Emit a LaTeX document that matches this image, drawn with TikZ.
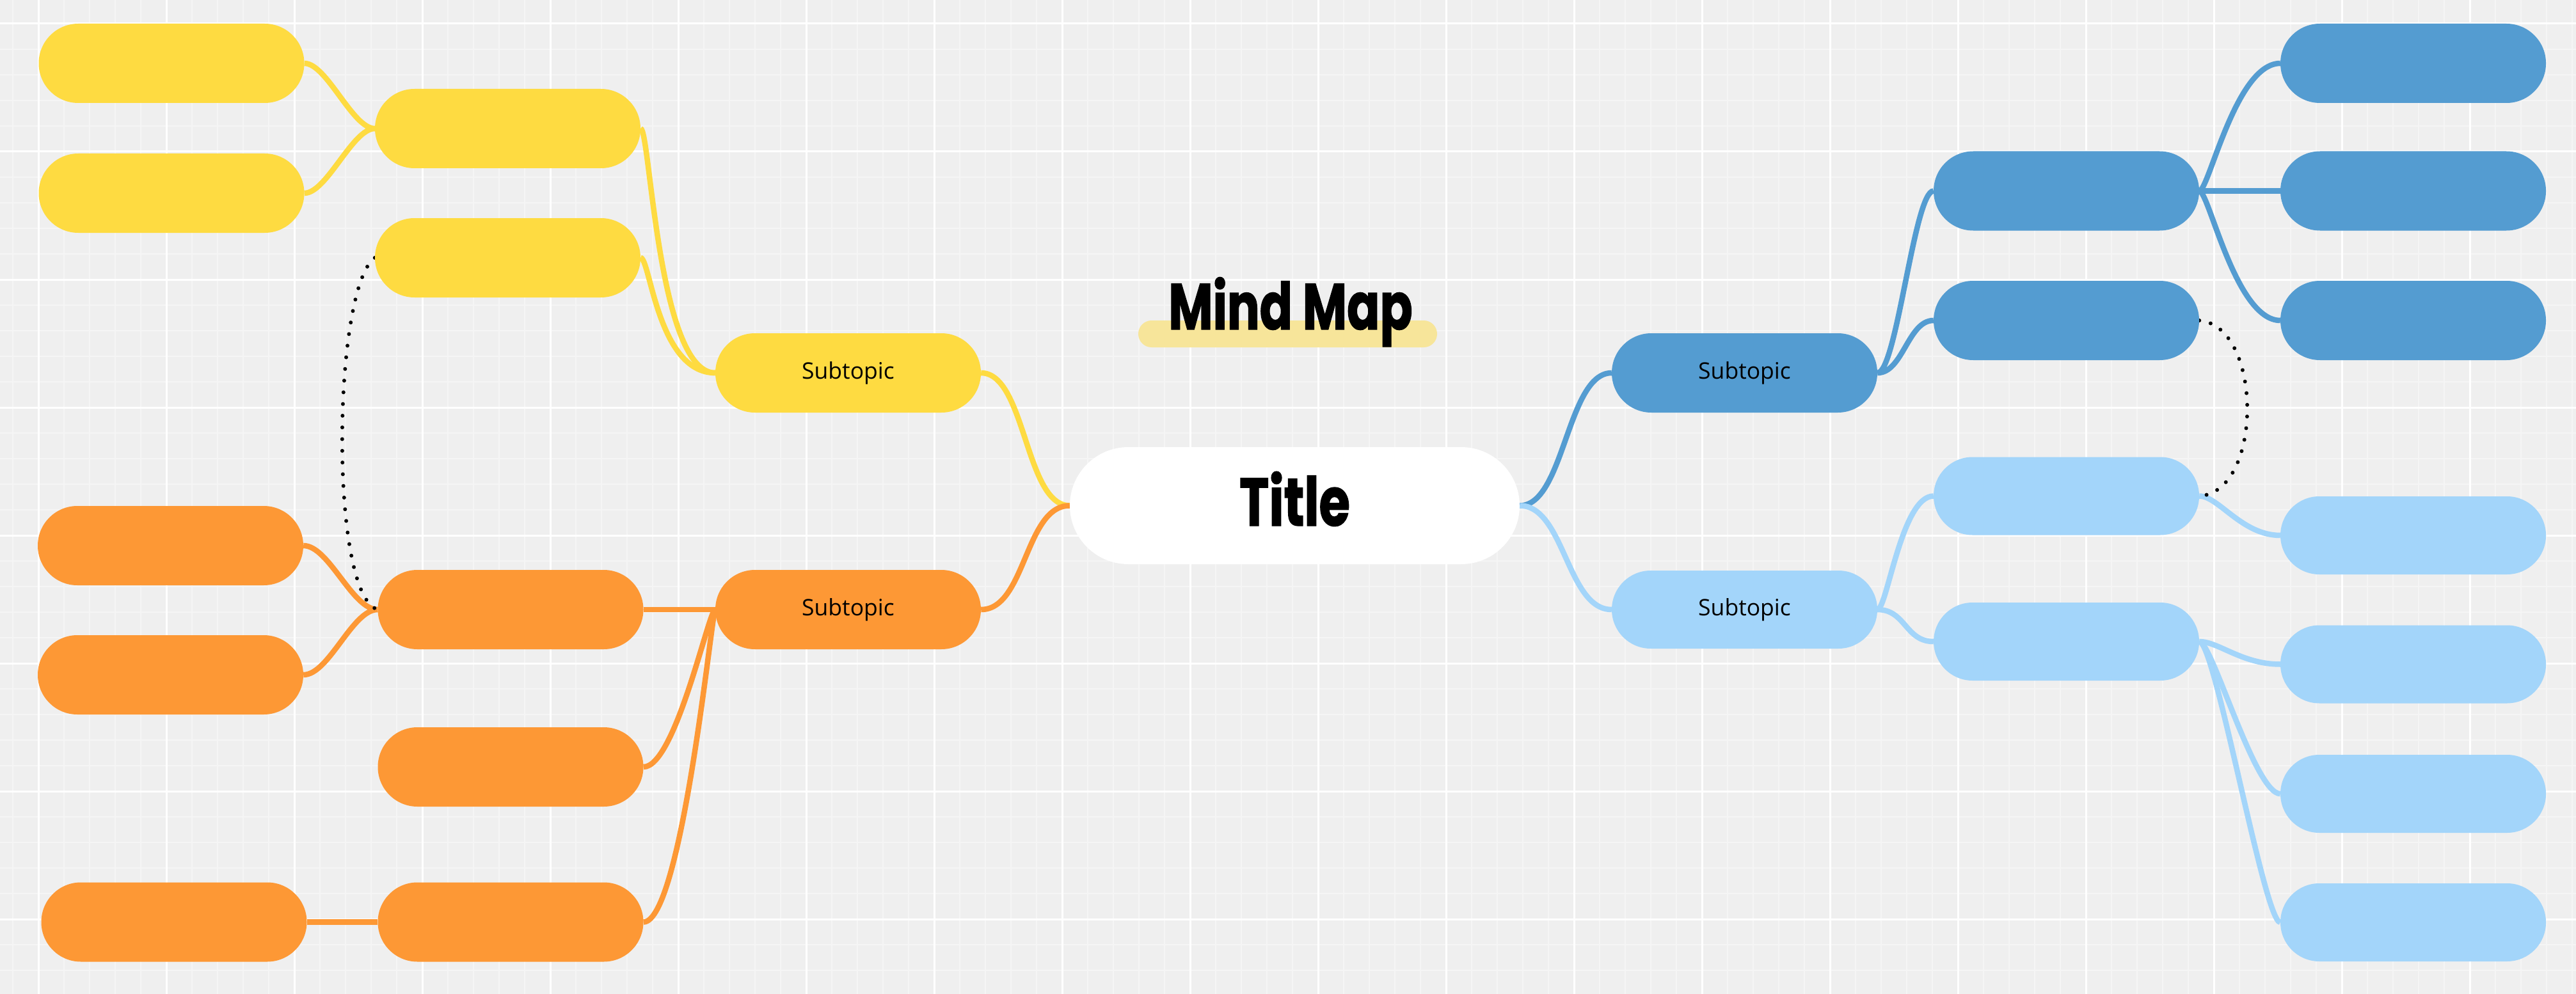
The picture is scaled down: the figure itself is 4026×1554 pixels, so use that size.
\documentclass[tikz,border=0pt]{standalone}
\usepackage{fontspec}
\setmainfont{Open Sans}
\newfontfamily\titlefont{Poppins}[FakeStretch=0.74, BoldFeatures={FakeBold=1.2}]
\pgfdeclarelayer{grid}
\pgfdeclarelayer{links}
\pgfsetlayers{grid,links,main}
\definecolor{cY}{HTML}{FEDB41}
\definecolor{cO}{HTML}{FD9835}
\definecolor{cB}{HTML}{549CD1}
\definecolor{cL}{HTML}{A3D5FA}
\definecolor{bgc}{HTML}{EFEFEF}
\definecolor{minorc}{HTML}{F5F5F5}
\definecolor{hlc}{HTML}{F7E59A}
\tikzset{
  pill/.style={rectangle, rounded corners=61.9pt, minimum width=415pt, minimum height=124pt, inner sep=0pt, font=\fontsize{35.5}{42}\selectfont, text=black},
  lpill/.style={pill, rounded corners=60.9pt, minimum height=122pt, fill=cL},
  ypill/.style={pill, fill=cY},
  opill/.style={pill, fill=cO},
  bpill/.style={pill, fill=cB},
  link/.style={line width=8.5pt},
  dotlink/.style={line width=6pt, line cap=round, dash pattern=on 0pt off 18.3pt, black},
  minorline/.style={line width=2pt, minorc},
  majorline/.style={line width=3pt, white},
}
\begin{document}
\begin{tikzpicture}[x=1pt,y=-1pt]
\useasboundingbox (0,0) rectangle (4026,1554);
\begin{pgfonlayer}{grid}
  \fill[bgc] (0,0) rectangle (4026,1554);
  \foreach \x in {20,60,...,4020} \draw[minorline] (\x,0) -- (\x,1554);
  \foreach \y in {37,77,...,1557} \draw[minorline] (0,\y) -- (4026,\y);
  \foreach \x in {60,260,...,3860} \draw[majorline] (\x,0) -- (\x,1554);
  \foreach \y in {37,237,...,1437} \draw[majorline] (0,\y) -- (4026,\y);
\end{pgfonlayer}

% title and heading
\node[rectangle, rounded corners=91.4pt, minimum width=703pt, minimum height=183pt, inner sep=0pt, fill=white, text height=75pt, text depth=12pt, font=\titlefont\bfseries\fontsize{106}{120}\selectfont] (title) at (2023.5,790.5) {Title};
\node[rectangle, rounded corners=20.9pt, minimum width=467pt, minimum height=42pt, inner sep=0pt, fill=hlc] (hlbar) at (2012.5,522) {};
\node[anchor=base, inner sep=0pt, font=\titlefont\bfseries\fontsize{102}{120}\selectfont] (mm) at (2017,515) {Mind Map};

% yellow
\node[ypill] (ysub) at (1325.5,583) {Subtopic};
\node[ypill] (y1) at (268,99) {};
\node[ypill] (y2) at (268,302) {};
\node[ypill] (y3) at (793.5,201) {};
\node[ypill] (y4) at (793.5,403) {};
% orange
\node[opill] (osub) at (1325.5,953) {Subtopic};
\node[opill] (o1) at (266.5,853) {};
\node[opill] (o2) at (266.5,1055) {};
\node[opill] (o3) at (798,953) {};
\node[opill] (o4) at (798,1199) {};
\node[opill] (o5) at (272,1441.5) {};
\node[opill] (o6) at (798,1441.5) {};
% blue
\node[bpill] (bsub) at (2726.5,583) {Subtopic};
\node[bpill] (bm1) at (3229.5,298.5) {};
\node[bpill] (bm2) at (3229.5,501) {};
\node[bpill] (br1) at (3771.5,99) {};
\node[bpill] (br2) at (3771.5,298.5) {};
\node[bpill] (br3) at (3771.5,501) {};
% light blue
\node[lpill] (lsub) at (2726.5,953) {Subtopic};
\node[lpill] (lm1) at (3229.5,775.5) {};
\node[lpill] (lm2) at (3229.5,1003) {};
\node[lpill] (lr1) at (3771.5,837) {};
\node[lpill] (lr2) at (3771.5,1038.5) {};
\node[lpill] (lr3) at (3771.5,1241) {};
\node[lpill] (lr4) at (3771.5,1442) {};

\begin{pgfonlayer}{links}
  % yellow
  \draw[link,cY] (y1.east) .. controls +(35,0) and +(-35,0) .. (y3.west);
  \draw[link,cY] (y2.east) .. controls +(35,0) and +(-35,0) .. (y3.west);
  \draw[link,cY] (y3.east) .. controls +(15,0) and +(-90,0) .. (ysub.west);
  \draw[link,cY] (y4.east) .. controls +(15,0) and +(-90,0) .. (ysub.west);
  \draw[link,cY] (title.west) .. controls +(-70,0) and +(70,0) .. (ysub.east);
  % orange
  \draw[link,cO] (o1.east) .. controls +(40,0) and +(-40,0) .. (o3.west);
  \draw[link,cO] (o2.east) .. controls +(40,0) and +(-40,0) .. (o3.west);
  \draw[link,cO] (o3.east) -- (osub.west);
  \draw[link,cO] (o4.east) .. controls +(50,0) and +(-10,0) .. (osub.west);
  \draw[link,cO] (o6.east) .. controls +(60,0) and +(-5,0) .. (osub.west);
  \draw[link,cO] (o5.east) -- (o6.west);
  \draw[link,cO] (title.west) .. controls +(-70,0) and +(70,0) .. (osub.east);
  % blue
  \draw[link,cB] (title.east) .. controls +(70,0) and +(-70,0) .. (bsub.west);
  \draw[link,cB] (bsub.east) .. controls +(30,0) and +(-30,0) .. (bm1.west);
  \draw[link,cB] (bsub.east) .. controls +(40,0) and +(-40,0) .. (bm2.west);
  \draw[link,cB] (bm1.east) .. controls +(15,0) and +(-70,0) .. (br1.west);
  \draw[link,cB] (bm1.east) -- (br2.west);
  \draw[link,cB] (bm1.east) .. controls +(15,0) and +(-70,0) .. (br3.west);
  % light blue
  \draw[link,cL] (title.east) .. controls +(70,0) and +(-70,0) .. (lsub.west);
  \draw[link,cL] (lsub.east) .. controls +(15,0) and +(-50,0) .. (lm1.west);
  \draw[link,cL] (lsub.east) .. controls +(44,0) and +(-44,0) .. (lm2.west);
  \draw[link,cL] (lm1.east) .. controls +(30,0) and +(-60,0) .. (lr1.west);
  \draw[link,cL] (lm2.east) .. controls +(30,0) and +(-60,0) .. (lr2.west);
  \draw[link,cL] (lm2.east) .. controls +(20,0) and +(-40,0) .. (lr3.west);
  \draw[link,cL] (lm2.east) .. controls +(25,0) and +(-25,0) .. (lr4.west);
  % dotted links
  \draw[dotlink] (y4.west) .. controls +(-66,47) and +(-76,-23) .. (o3.west);
  \draw[dotlink] (bm2.east) .. controls +(100,9) and +(100,-6) .. (lm1.east);
\end{pgfonlayer}
\end{tikzpicture}
\end{document}
